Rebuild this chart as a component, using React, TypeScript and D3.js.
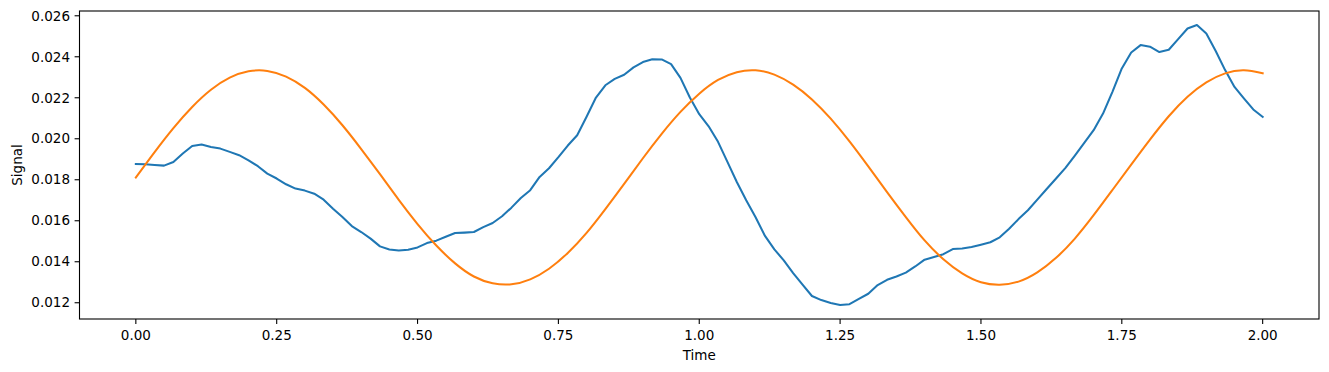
import * as d3 from "d3";

// blue trace, sampled every 1/60 s from t = 0 to t = 2
const signalValues = [
  0.01877, 0.01876, 0.01872, 0.01869, 0.01887, 0.01928, 0.01965, 0.01972, 0.0196, 0.01952,
  0.01936, 0.0192, 0.01895, 0.01866, 0.0183, 0.01806, 0.01778, 0.01757, 0.01747, 0.01732,
  0.01703, 0.01659, 0.01618, 0.01574, 0.01545, 0.01513, 0.01475, 0.0146, 0.01455, 0.01459,
  0.0147, 0.01491, 0.01503, 0.01522, 0.0154, 0.01542, 0.01545, 0.01569, 0.01589, 0.01622,
  0.01664, 0.01711, 0.01749, 0.01814, 0.01856, 0.0191, 0.01967, 0.02017, 0.02107, 0.02201,
  0.02261, 0.02292, 0.02312, 0.02348, 0.02374, 0.02388, 0.02387, 0.02364, 0.02297, 0.02201,
  0.0212, 0.02061, 0.01985, 0.01887, 0.01789, 0.017, 0.01617, 0.01526, 0.0146, 0.01407,
  0.01345, 0.01288, 0.01233, 0.01213, 0.01199, 0.01189, 0.01193, 0.01219, 0.01244, 0.01286,
  0.01312, 0.01328, 0.01347, 0.01377, 0.0141, 0.01423, 0.01437, 0.01462, 0.01465, 0.01472,
  0.01483, 0.01495, 0.01519, 0.01561, 0.01608, 0.01651, 0.01703, 0.01755, 0.01806, 0.01858,
  0.01918, 0.0198, 0.02042, 0.02123, 0.02229, 0.02343, 0.02421, 0.02457, 0.02449, 0.02423,
  0.02434, 0.02486, 0.02538, 0.02555, 0.02514, 0.02428, 0.02335, 0.02253, 0.02197, 0.02143,
  0.02107,
];
const signalStep = 1 / 60;

// orange trace, read every 1/30 s
const waveValues = [
  0.01811, 0.01935, 0.02052, 0.02155, 0.02239, 0.02298, 0.02329, 0.02331, 0.02303, 0.02248,
  0.02167, 0.02066, 0.0195, 0.01827, 0.01702, 0.01584, 0.01479, 0.01392, 0.01328, 0.01295,
  0.0129, 0.01314, 0.01366, 0.01443, 0.01541, 0.01657, 0.0178, 0.01905, 0.02024, 0.02131,
  0.0222, 0.02287, 0.02325, 0.02334, 0.02313, 0.02264, 0.02192, 0.02098, 0.01987, 0.01865,
  0.0174, 0.01618, 0.01504, 0.01412, 0.01343, 0.013, 0.01288, 0.01303, 0.01348, 0.01419,
  0.01513, 0.01627, 0.0175, 0.01874, 0.01996, 0.0211, 0.02205, 0.02275, 0.02319, 0.02334,
  0.0232,
];
const waveStep = 1 / 30;

const xTicks = [0, 0.25, 0.5, 0.75, 1.0, 1.25, 1.5, 1.75, 2.0];
const yTicks = [0.012, 0.014, 0.016, 0.018, 0.02, 0.022, 0.024, 0.026];

const W = 1329;
const H = 372;
const margin = { top: 11, right: 10, bottom: 53, left: 79.5 };
const FONT = "DejaVu Sans, sans-serif";
const FS = 13.5;

export default function App() {
  const innerW = W - margin.left - margin.right;
  const innerH = H - margin.top - margin.bottom;

  const x = d3.scaleLinear().domain([-0.1, 2.1]).range([0, innerW]);
  const all = [...signalValues, ...waveValues];
  const [lo, hi] = d3.extent(all) as [number, number];
  const pad = (hi - lo) * 0.05;
  const y = d3.scaleLinear().domain([lo - pad, hi + pad]).range([innerH, 0]);

  const line = d3
    .line<number>()
    .x((d, i) => x(i * signalStep))
    .y((d) => y(d));
  const waveLine = d3
    .line<number>()
    .x((d, i) => x(i * waveStep))
    .y((d) => y(d))
    .curve(d3.curveNatural);

  return (
    <svg
      width={W}
      height={H}
      style={{ position: "fixed", left: 0, top: 0, background: "#fff" }}
      fontFamily={FONT}
    >
      <g transform={`translate(${margin.left},${margin.top})`}>
        <path d={line(signalValues) ?? ""} fill="none" stroke="#1f77b4" strokeWidth={2.05} strokeLinejoin="round" strokeLinecap="square" />
        <path d={waveLine(waveValues) ?? ""} fill="none" stroke="#ff7f0e" strokeWidth={2.05} strokeLinejoin="round" strokeLinecap="square" />

        {/* x axis */}
        {xTicks.map((t) => (
          <g key={t} transform={`translate(${x(t)},${innerH})`}>
            <line y2={4.9} stroke="#000" strokeWidth={1.1} />
            <text y={21} textAnchor="middle" fontSize={FS} fill="#000">
              {t.toFixed(2)}
            </text>
          </g>
        ))}
        {/* y axis */}
        {yTicks.map((t) => (
          <g key={t} transform={`translate(0,${y(t)})`}>
            <line x2={-4.9} stroke="#000" strokeWidth={1.1} />
            <text x={-9.5} dy="0.35em" textAnchor="end" fontSize={FS} fill="#000">
              {t.toFixed(3)}
            </text>
          </g>
        ))}

        <rect width={innerW} height={innerH} fill="none" stroke="#000" strokeWidth={1.1} />

        <text x={innerW / 2} y={innerH + 41} textAnchor="middle" fontSize={FS} fill="#000">
          Time
        </text>
        <text
          transform={`translate(${-margin.left + 22},${innerH / 2}) rotate(-90)`}
          textAnchor="middle"
          fontSize={FS}
          fill="#000"
        >
          Signal
        </text>
      </g>
    </svg>
  );
}
